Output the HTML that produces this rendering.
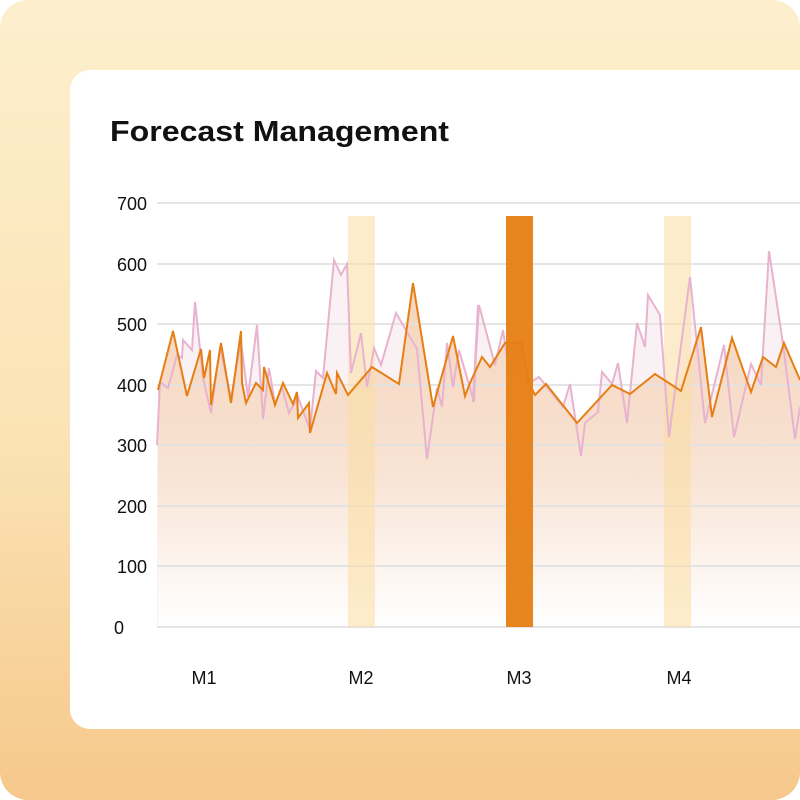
<!DOCTYPE html>
<html><head><meta charset="utf-8"><style>
html,body{margin:0;padding:0;width:800px;height:800px;overflow:hidden}
</style></head><body>
<svg width="800" height="800" viewBox="0 0 800 800" xmlns="http://www.w3.org/2000/svg" font-family="Liberation Sans, sans-serif">
<defs>
<linearGradient id="bg" x1="0" y1="0" x2="0" y2="1">
<stop offset="0" stop-color="#fdefcd"/><stop offset="0.55" stop-color="#fbe3b5"/><stop offset="1" stop-color="#f6c88b"/>
</linearGradient>
<linearGradient id="fo" gradientUnits="userSpaceOnUse" x1="0" y1="300" x2="0" y2="627">
<stop offset="0" stop-color="#f5d6bf"/><stop offset="0.5" stop-color="#f8e2d2"/><stop offset="1" stop-color="#ffffff"/>
</linearGradient>
</defs>
<rect width="800" height="800" rx="28" fill="url(#bg)"/>
<rect x="70" y="70" width="760" height="659" rx="20" fill="#fff"/>
<text x="110" y="141" font-size="29" font-weight="bold" fill="#111" textLength="339" lengthAdjust="spacingAndGlyphs">Forecast Management</text>
<polygon fill="#f9eef2" opacity="0.8" points="157,627 157,445 160,382 168,388 177,355 182,358 183,340 192,350 195,302 203,378 211,413 220,347 231,398 241,342 248,397 257,325 263,419 269,368 275,404 282,387 289,413 298,397 310,430 316,371 323,378 334,260 341,275 347,264 351,373 361,333 367,387 374,348 381,365 396,313 417,349 427,459 437,388 442,407 447,343 453,387 459,350 474,402 478,305 473,402 479,305 495,365 503,330 510,378 521,342 529,383 539,377 563,407 570,384 581,456 585,423 598,412 602,372 612,384 618,363 627,423 637,323 645,347 648,295 660,315 669,437 690,277 705,423 724,345 734,437 751,364 761,385 769,251 783,344 795,439 800,407 800,627"/>
<polygon fill="url(#fo)" points="158,627 158,390 173,331 187,396 201,349 204,378 210,350 211,405 221,343 231,403 241,331 242,383 246,403 256,383 263,390 264,367 275,405 283,383 293,404 297,392 298,418 309,403 310,433 327,373 336,394 337,373 348,395 372,367 399,384 413,283 433,407 453,336 465,396 470,383 482,357 490,367 505,343 521,342 529,383 535,395 546,384 577,423 612,385 630,394 655,374 681,391 701,327 712,417 732,338 751,392 763,357 776,367 784,343 800,380 800,627"/>
<g stroke="#e3e3e3" stroke-width="2" opacity="0.9">
<line x1="157" y1="203" x2="800" y2="203"/><line x1="157" y1="264" x2="800" y2="264"/>
<line x1="157" y1="324" x2="800" y2="324"/><line x1="157" y1="385" x2="800" y2="385"/>
<line x1="157" y1="445" x2="800" y2="445"/><line x1="157" y1="506" x2="800" y2="506"/>
<line x1="157" y1="566" x2="800" y2="566"/><line x1="157" y1="627" x2="800" y2="627"/>
</g>
<g font-size="18" fill="#111" text-anchor="end">
<text x="147" y="210">700</text><text x="147" y="271">600</text><text x="147" y="331">500</text>
<text x="147" y="392">400</text><text x="147" y="452">300</text><text x="147" y="513">200</text>
<text x="147" y="573">100</text><text x="124" y="634">0</text>
</g>
<rect x="348" y="216" width="27" height="411" fill="#fbdca0" opacity="0.55"/>
<rect x="664" y="216" width="27" height="411" fill="#fbdca0" opacity="0.55"/>
<polyline fill="none" stroke="#e8b3cf" stroke-width="2" points="157,445 160,382 168,388 177,355 182,358 183,340 192,350 195,302 203,378 211,413 220,347 231,398 241,342 248,397 257,325 263,419 269,368 275,404 282,387 289,413 298,397 310,430 316,371 323,378 334,260 341,275 347,264 351,373 361,333 367,387 374,348 381,365 396,313 417,349 427,459 437,388 442,407 447,343 453,387 459,350 474,402 478,305 473,402 479,305 495,365 503,330 510,378 521,342 529,383 539,377 563,407 570,384 581,456 585,423 598,412 602,372 612,384 618,363 627,423 637,323 645,347 648,295 660,315 669,437 690,277 705,423 724,345 734,437 751,364 761,385 769,251 783,344 795,439 800,407"/>
<polyline fill="none" stroke="#e67e13" stroke-width="2" points="158,390 173,331 187,396 201,349 204,378 210,350 211,405 221,343 231,403 241,331 242,383 246,403 256,383 263,390 264,367 275,405 283,383 293,404 297,392 298,418 309,403 310,433 327,373 336,394 337,373 348,395 372,367 399,384 413,283 433,407 453,336 465,396 470,383 482,357 490,367 505,343 521,342 529,383 535,395 546,384 577,423 612,385 630,394 655,374 681,391 701,327 712,417 732,338 751,392 763,357 776,367 784,343 800,380"/>
<rect x="506" y="216" width="27" height="411" fill="#e67e13" opacity="0.95"/>
<g font-size="18" fill="#111" text-anchor="middle">
<text x="204" y="684">M1</text><text x="361" y="684">M2</text><text x="519" y="684">M3</text><text x="679" y="684">M4</text>
</g>
</svg>
</body></html>
